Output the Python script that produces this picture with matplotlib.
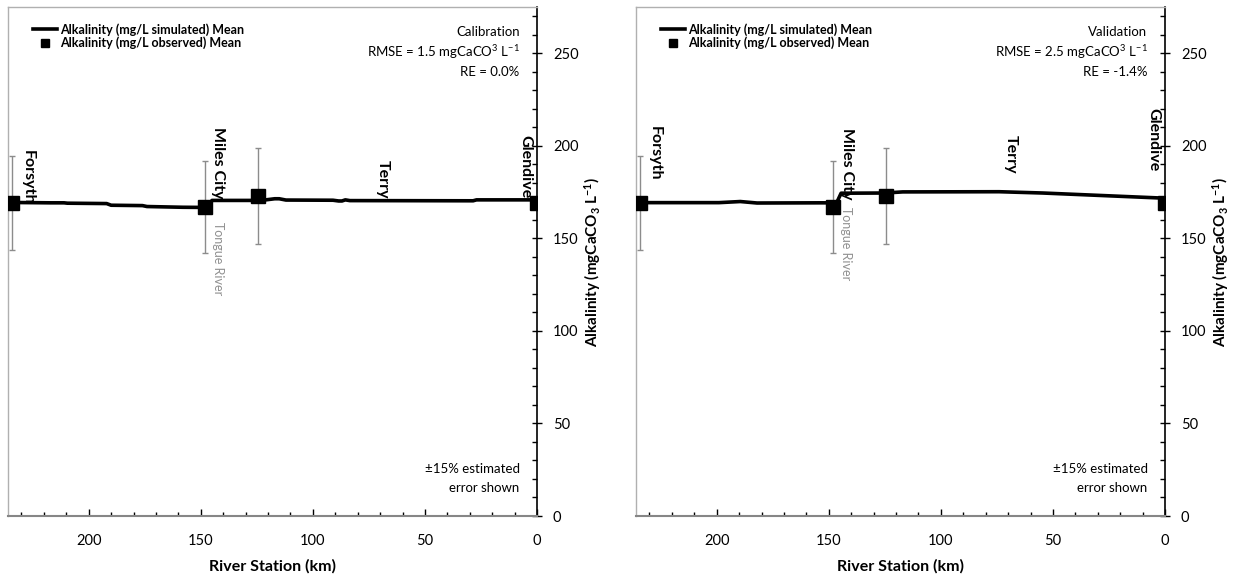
import matplotlib
matplotlib.use("Agg")
import matplotlib.pyplot as plt
from matplotlib.lines import Line2D
from matplotlib.ticker import MultipleLocator

plt.rcParams['font.family'] = ['Lato', 'DejaVu Sans']
plt.rcParams['mathtext.default'] = 'regular'

# observed means (same stations on both panels)
obs_km = [234, 148, 124.5, 0]
obs_alk = [169, 167, 173, 169]
obs_err = [25.4, 25.0, 26.0]  # +-15%, no bar at Glendive

# simulated means
cal_km = [235.5, 217, 211, 209.5, 192, 190, 176, 174, 158, 146.5, 145, 123, 117, 115, 112,
          91, 88.5, 87, 85.5, 83.5, 28.5, 27, 0]
cal_alk = [169.4, 169.2, 169.2, 169.0, 168.8, 167.9, 167.7, 167.2, 166.8, 166.7, 170.5, 170.5,
           171.4, 171.4, 170.7, 170.6, 170.2, 170.2, 170.8, 170.4, 170.3, 170.8, 170.8]
val_km = [235.5, 199, 191, 189.5, 182, 154, 146.5, 144.5, 125, 117, 74, 54.5, 0]
val_alk = [169.3, 169.3, 169.8, 169.9, 169.1, 169.2, 169.2, 174.4, 174.5, 175.1, 175.2, 174.5, 171.7]

# station labels: name, km, top y
cal_labels = [("Forsyth", 227.2, 197.8), ("Miles City", 142.4, 210.2),
              ("Terry", 68.8, 192.5), ("Glendive", 5.4, 205.9)]
val_labels = [("Forsyth", 227.7, 210.5), ("Miles City", 142.0, 209.5),
              ("Terry", 68.8, 205.9), ("Glendive", 5.4, 220.4)]
tongue = [(142.4, 159.1), (142.4, 167.2)]

panels = [("Calibration", "1.5", "0.0%", cal_km, cal_alk, cal_labels, tongue[0]),
          ("Validation", "2.5", "-1.4%", val_km, val_alk, val_labels, tongue[1])]

fig = plt.figure(figsize=(12.33, 5.8), dpi=100)
lefts = [8 / 1233, 636 / 1233]

for left, (name, rmse, re, skm, salk, labels, tr) in zip(lefts, panels):
    ax = fig.add_axes([left, 64 / 580, 529 / 1233, 509 / 580])
    ax.errorbar(obs_km[:3], obs_alk[:3], yerr=obs_err, fmt='none', ecolor='#8c8c8c',
                elinewidth=1, capsize=2.5, capthick=1, zorder=1)
    ax.plot(skm, salk, color='black', lw=2.6, zorder=2)
    ax.plot(obs_km, obs_alk, 's', color='black', ms=9.5, zorder=3)

    ax.set_xlim(236, 0)
    ax.set_ylim(0, 275)
    ax.xaxis.set_major_locator(MultipleLocator(50))
    ax.xaxis.set_minor_locator(MultipleLocator(10))
    ax.yaxis.set_major_locator(MultipleLocator(50))
    ax.yaxis.set_minor_locator(MultipleLocator(10))
    ax.yaxis.tick_right()
    ax.yaxis.set_label_position('right')
    ax.tick_params(axis='x', which='major', direction='in', length=5, width=1, pad=13,
                   labelsize=10.5, color='black')
    ax.tick_params(axis='x', which='minor', direction='in', length=3, width=1)
    ax.tick_params(axis='y', which='major', direction='inout', length=7, width=1, pad=8,
                   labelsize=10.5)
    ax.tick_params(axis='y', which='minor', direction='in', length=3.5, width=1)
    ax.tick_params(axis='y', which='both', left=False, right=True)

    for s in ['left', 'top']:
        ax.spines[s].set_color('#b0b0b0')
        ax.spines[s].set_linewidth(1)
    ax.spines['bottom'].set_color('#868686')
    ax.spines['bottom'].set_linewidth(1.5)
    ax.spines['right'].set_color('black')
    ax.spines['right'].set_linewidth(1.2)

    ax.set_xlabel("River Station (km)", fontsize=11.5, fontweight='bold', labelpad=8)
    ax.set_ylabel("Alkalinity (mgCaCO$_3$ L$^{-1}$)", fontsize=11, fontweight='bold',
                  labelpad=2.5)

    for lab, x, y in labels:
        ax.text(x, y, lab, rotation=-90, ha='center', va='top', fontsize=11.5,
                fontweight='bold')
    ax.text(tr[0], tr[1], "Tongue River", rotation=-90, ha='center', va='top',
            fontsize=9, color='#909090')

    ax.text(0.967, 0.951, name, transform=ax.transAxes, ha='right', va='center', fontsize=9.5)
    ax.text(0.967, 0.912, "RMSE = " + rmse + " mgCaCO$^3$ L$^{-1}$", transform=ax.transAxes,
            ha='right', va='center', fontsize=9.5)
    ax.text(0.967, 0.873, "RE = " + re, transform=ax.transAxes, ha='right', va='center',
            fontsize=9.5)
    ax.text(0.967, 0.092, "\u00b115% estimated", transform=ax.transAxes, ha='right',
            va='center', fontsize=9.5)
    ax.text(0.967, 0.055, "error shown", transform=ax.transAxes, ha='right', va='center',
            fontsize=9.5)

    handles = [Line2D([], [], color='black', lw=2.6),
               Line2D([], [], ls='none', marker='s', color='black', ms=6)]
    ax.legend(handles, ["Alkalinity (mg/L simulated) Mean", "Alkalinity (mg/L observed) Mean"],
              loc='upper left', bbox_to_anchor=(0.048, 0.968), frameon=False,
              prop={'size': 9, 'weight': 'bold'}, handlelength=1.9, handletextpad=0.25,
              labelspacing=0.05, borderpad=0, borderaxespad=0)

fig.savefig("out.png", dpi=100)
